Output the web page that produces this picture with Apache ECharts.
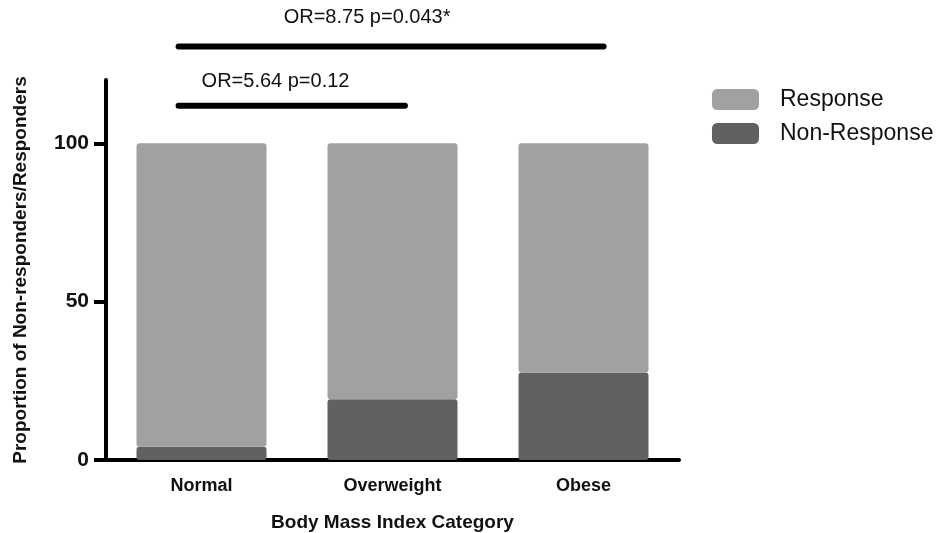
<!DOCTYPE html>
<html><head><meta charset="utf-8">
<script src="https://cdn.jsdelivr.net/npm/echarts@6/dist/echarts.min.js"></script>
<style>html,body{margin:0;padding:0;background:#fff}#c{width:943px;height:533px}</style>
</head><body><div id="c"></div>
<script>
const categories = ['Normal', 'Overweight', 'Obese'];
const nonResponse = [4.2, 19.2, 27.6];
const response = [95.8, 80.8, 72.4];
const seriesNames = ['Response', 'Non-Response'];
const yTicks = [0, 50, 100];
// significance brackets: start / end (category position), y value, label
const bracketStart = [0.38, 0.38];
const bracketEnd = [2.605, 1.565];
const bracketY = [130.6, 111.9];
const bracketLabels = ['OR=8.75 p=0.043*', 'OR=5.64 p=0.12'];

const font = '"Liberation Sans", Arial, sans-serif';
const chart = echarts.init(document.getElementById('c'));
const bracketSeries = bracketLabels.map((t, i) => ({
  type: 'line', xAxisIndex: 1, yAxisIndex: 0, clip: false, silent: true,
  symbol: 'none', lineStyle: { color: '#000', width: 6, cap: 'round' },
  data: [[bracketStart[i], bracketY[i]], [bracketEnd[i], bracketY[i]]], z: 5
}));
chart.setOption({
  animation: false,
  grid: { left: 106, right: 264, top: 80, bottom: 73, outerBoundsMode: 'none', containLabel: false },
  legend: {
    orient: 'vertical', left: 712, top: 88, padding: 0, itemWidth: 47, itemHeight: 21, itemGap: 11,
    icon: 'roundRect', data: seriesNames,
    textStyle: { fontFamily: font, fontSize: 23, color: '#111', padding: [0, 0, 0, 16] }
  },
  xAxis: [{
    type: 'category', data: categories,
    name: 'Body Mass Index Category', nameLocation: 'middle', nameGap: 53,
    nameTextStyle: { fontFamily: font, fontWeight: 'bold', fontSize: 19, color: '#111' },
    axisLine: { lineStyle: { color: '#000', width: 4 } },
    axisTick: { alignWithLabel: true, length: 12, lineStyle: { color: '#000', width: 4 } },
    axisLabel: { fontFamily: font, fontWeight: 'bold', fontSize: 18, color: '#111', margin: 17 }
  }, {
    type: 'value', min: 0, max: 3, show: false
  }],
  yAxis: {
    type: 'value', min: 0, max: 120, interval: 50,
    name: 'Proportion of Non-responders/Responders', nameLocation: 'middle', nameGap: 76,
    nameTextStyle: { fontFamily: font, fontWeight: 'bold', fontSize: 19, color: '#111' },
    splitLine: { show: false },
    axisLine: { show: true, lineStyle: { color: '#000', width: 4 } },
    axisTick: { show: true, length: 12, customValues: yTicks, lineStyle: { color: '#000', width: 4 } },
    axisLabel: { fontFamily: font, fontWeight: 'bold', fontSize: 21, color: '#111', margin: 17,
      customValues: yTicks }
  },
  series: [
    { name: 'Non-Response', type: 'bar', stack: 'a', data: nonResponse, barWidth: 130,
      itemStyle: { color: '#616161', borderRadius: 3 } },
    { name: 'Response', type: 'bar', stack: 'a', data: response, barWidth: 130,
      itemStyle: { color: '#a1a1a4', borderRadius: 3 } }
  ].concat(bracketSeries)
});
const textOffsets = [29.3, 23.8];
const texts = bracketLabels.map((t, i) => {
  const p1 = chart.convertToPixel({ xAxisIndex: 1, yAxisIndex: 0 }, [bracketStart[i], bracketY[i]]);
  const p2 = chart.convertToPixel({ xAxisIndex: 1, yAxisIndex: 0 }, [bracketEnd[i], bracketY[i]]);
  const x = i === 0 ? (p1[0] + p2[0]) / 2 - 24 : p1[0] + 23;
  return { type: 'text', x: x, y: p1[1] - textOffsets[i],
    style: { text: t, fontFamily: font, fontSize: 20, fill: '#111',
      align: i === 0 ? 'center' : 'left', verticalAlign: 'middle' } };
});
chart.setOption({ graphic: texts });
</script></body></html>
